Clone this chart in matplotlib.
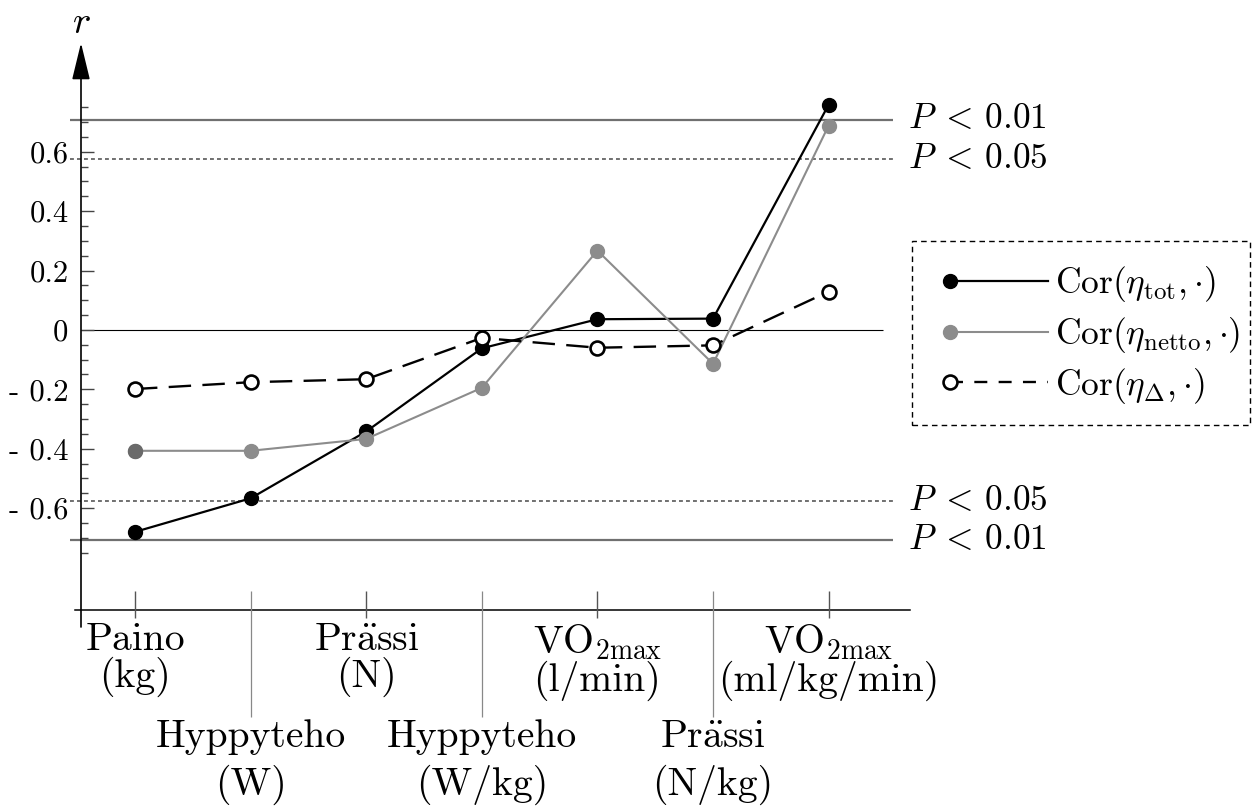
import numpy as np
import matplotlib
matplotlib.use("Agg")
import matplotlib.pyplot as plt
from matplotlib.legend_handler import HandlerLine2D
from matplotlib.lines import Line2D
from matplotlib.patches import Rectangle

plt.rcParams["font.family"] = "cmr10"
plt.rcParams["mathtext.fontset"] = "cm"
plt.rcParams["axes.unicode_minus"] = False

# correlations of each efficiency measure with the background variables
categories = [
    "Paino\n(kg)",
    "Hyppyteho\n(W)",
    "Pr$\\ddot{\\mathrm{a}}$ssi\n(N)",
    "Hyppyteho\n(W/kg)",
    "VO$_{2\\mathrm{max}}$\n(l/min)",
    "Pr$\\ddot{\\mathrm{a}}$ssi\n(N/kg)",
    "VO$_{2\\mathrm{max}}$\n(ml/kg/min)",
]
r_tot = [-0.680, -0.567, -0.342, -0.062, 0.036, 0.038, 0.758]
r_netto = [-0.407, -0.407, -0.367, -0.195, 0.267, -0.114, 0.688]
r_delta = [-0.199, -0.176, -0.166, -0.027, -0.060, -0.052, 0.129]

# critical r values (n = 12)
r_crit_05 = 0.576
r_crit_01 = 0.708

ytick_vals = [-0.6, -0.4, -0.2, 0.0, 0.2, 0.4, 0.6]
ytick_labels = ["- 0.6", "- 0.4", "- 0.2", "0", "0.2", "0.4", "0.6"]

GRAY_LINE = "#707070"
GRAY_SERIES = "#8c8c8c"


class LeftMarkerHandler(HandlerLine2D):
    """Legend entry with the marker at the left end of the line."""

    def create_artists(self, legend, orig_handle, xdescent, ydescent,
                       width, height, fontsize, trans):
        artists = super().create_artists(legend, orig_handle, xdescent, ydescent,
                                         width, height, fontsize, trans)
        artists[0].set_markevery([0])
        return artists


fig = plt.figure(figsize=(12.58, 8.07), dpi=100)
ax = fig.add_axes([81 / 1258, 197 / 807, 829 / 1258, 567 / 807])
ax.set_xlim(-0.467, 6.704)
ax.set_ylim(-0.943, 0.966)
for s in ax.spines.values():
    s.set_visible(False)

x = np.arange(len(categories))
xt = ax.get_xaxis_transform()
yt = ax.get_yaxis_transform()

# significance limits
for r in (r_crit_01, -r_crit_01):
    ax.hlines(r, -0.562, 6.557, color=GRAY_LINE, lw=1.6, clip_on=False, zorder=1)
for r in (r_crit_05, -r_crit_05):
    ax.hlines(r, -0.562, 6.557, color=GRAY_LINE, lw=1.4, linestyles=(0, (2.0, 1.6)),
              clip_on=False, zorder=1)
ax.hlines(0, -0.467, 6.47, color="black", lw=0.8, zorder=1)

for r, txt in [(r_crit_01, "$P\\;<\\,0.01$"), (r_crit_05, "$P\\;<\\,0.05$"),
               (-r_crit_05, "$P\\;<\\,0.05$"), (-r_crit_01, "$P\\;<\\,0.01$")]:
    ax.text(0.998, r, txt, transform=yt, ha="left", va="center", fontsize=25.5)

# axes
ax.plot([-0.007, 1.0], [0, 0], transform=ax.transAxes, color="black", lw=1.1,
        clip_on=False)
ax.annotate("", xy=(0, 1.0), xytext=(0, -0.03), xycoords="axes fraction",
            arrowprops=dict(arrowstyle="-|>,head_length=1.15,head_width=0.28",
                            mutation_scale=20, color="black", lw=1.2,
                            shrinkA=0, shrinkB=0))
ax.text(0, 1.035, "$r$", transform=ax.transAxes, ha="center", va="center", fontsize=28)

ax.set_yticks(ytick_vals)
ax.set_yticklabels(ytick_labels, fontsize=22)
minor = [v for v in np.round(np.arange(-0.75, 0.76, 0.05), 2) if v not in ytick_vals]
ax.set_yticks(minor, minor=True)
ax.tick_params(axis="y", which="major", direction="in", length=9, width=1.0,
               color="#444444", pad=9)
ax.tick_params(axis="y", which="minor", direction="in", length=5, width=1.0,
               color="#444444")
ax.set_xticks([])

# category ticks and labels in two staggered rows
upper = x[::2]
lower = x[1::2]
ax.vlines(upper, -0.0141, 0.0335, transform=xt, color="#555555", lw=1.0, clip_on=False)
ax.vlines(lower, -0.1887, 0.0335, transform=xt, color="#888888", lw=0.9, clip_on=False)
for i in upper:
    ax.text(i, -0.022, categories[i], transform=xt, ha="center", va="top",
            fontsize=28.5, linespacing=0.95)
for i in lower:
    ax.text(i, -0.193, categories[i], transform=xt, ha="center", va="top",
            fontsize=28.5, linespacing=1.3)

# series
ax.plot(x, r_tot, color="black", lw=1.6, marker="o", ms=10, zorder=3)
ax.plot(x, r_netto, color=GRAY_SERIES, lw=1.5, marker="o", ms=10, zorder=4)
ax.plot(x[:1], r_netto[:1], ls="none", marker="o", ms=10, color="#6a6a6a", zorder=4)
ax.plot(x, r_delta, color="black", lw=1.7, ls=(0, (9.5, 4.8)), marker="o", ms=10,
        mfc="white", mec="black", mew=1.9, zorder=5)

# legend inside a dashed box
fig.add_artist(Rectangle((912 / 1258, 1 - 425 / 807), 338 / 1258, 184 / 807,
                         transform=fig.transFigure, fill=False, edgecolor="black",
                         lw=1.0, ls=(0, (4, 3))))
handles = [
    Line2D([], [], color="black", lw=1.6, marker="o", ms=10),
    Line2D([], [], color=GRAY_SERIES, lw=1.5, marker="o", ms=10),
    Line2D([], [], color="black", lw=1.7, ls=(0, (5.5, 4.8)), marker="o", ms=10,
           mfc="white", mec="black", mew=1.9),
]
labels = [
    "Cor$(\\eta_{\\mathrm{tot}},{\\cdot})$",
    "Cor$(\\eta_{\\mathrm{netto}},{\\cdot})$",
    "Cor$(\\eta_{\\Delta},{\\cdot})$",
]
fig.legend(handles, labels, loc="center",
           bbox_to_anchor=(1095 / 1258, 1 - 335 / 807), borderaxespad=0,
           fontsize=25.5, numpoints=1, handlelength=2.77, handletextpad=0.2,
           borderpad=0.2, labelspacing=0.3, frameon=False,
           handler_map={Line2D: LeftMarkerHandler(numpoints=1)})

fig.savefig("out.png", dpi=100)
